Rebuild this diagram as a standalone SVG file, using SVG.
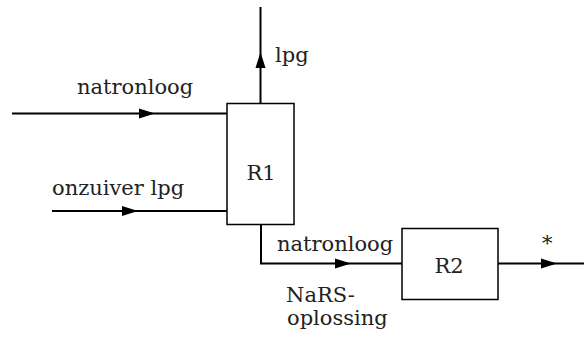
<svg xmlns="http://www.w3.org/2000/svg" width="584" height="343" viewBox="0 0 584 343">
<style>
.ln{stroke:#000;stroke-width:2;fill:none}
.bx{stroke:#000;stroke-width:1.5;fill:#fff}
.ah{fill:#000}
</style>
<rect width="584" height="343" fill="#fff"/>
<g id="connectors">
<path class="ln" d="M12,113.5 H227"/>
<polygon class="ah" points="155,113.5 139,108.5 139,118.5"/>
<path class="ln" d="M52,211 H227"/>
<polygon class="ah" points="138,211 122,206 122,216"/>
<path class="ln" d="M260.5,103 V7"/>
<polygon class="ah" points="260.5,52 255.5,68 265.5,68"/>
<path class="ln" d="M261,224 V263.5 H402"/>
<polygon class="ah" points="351,263.5 335,258.5 335,268.5"/>
<path class="ln" d="M498,263.5 H584"/>
<polygon class="ah" points="557,263.5 541,258.5 541,268.5"/>
</g>
<g font-family="DejaVu Serif, serif" font-size="21" fill="#222">
<g id="R1">
<rect class="bx" x="227" y="103.5" width="67" height="121"/>
<text x="261" y="180" text-anchor="middle">R1</text>
</g>
<g id="R2">
<rect class="bx" x="402" y="228.5" width="96" height="71"/>
<text x="449" y="273" text-anchor="middle">R2</text>
</g>
<g id="labels">
<text x="77" y="94">natronloog</text>
<text x="275" y="62">lpg</text>
<text x="52" y="195">onzuiver lpg</text>
<text x="277" y="251">natronloog</text>
<text x="542" y="250">*</text>
<text x="286" y="302">NaRS-</text>
<text x="287" y="325">oplossing</text>
</g>
</g>
</svg>
